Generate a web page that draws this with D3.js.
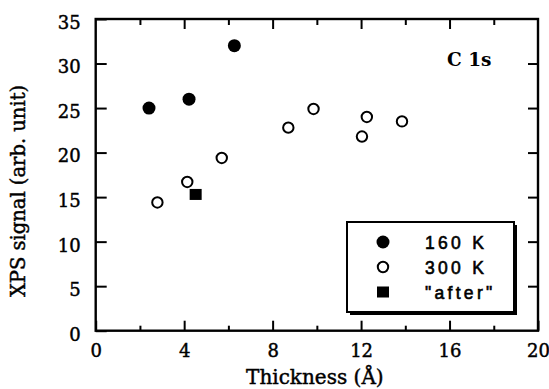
<!DOCTYPE html>
<html><head><meta charset="utf-8">
<script src="https://cdn.jsdelivr.net/npm/d3@7"></script>
<style>
body{margin:0;background:#fff;}
svg{display:block;}
</style></head>
<body>
<svg id="chart" width="549" height="389"></svg>
<script>
// Data
const thick160 = [2.41, 4.22, 6.27];
const sig160   = [25.0, 26.0, 32.0];
const thick300 = [2.79, 4.14, 5.70, 8.71, 9.85, 12.04, 12.26, 13.85];
const sig300   = [14.4, 16.7, 19.4, 22.8, 24.9, 21.8, 24.0, 23.5];
const thickAfter = [4.52];
const sigAfter   = [15.3];
const xMajorTicks = [0, 4, 8, 12, 16, 20];
const xMinorTicks = [2, 6, 10, 14, 18];
const yTicks = [0, 5, 10, 15, 20, 25, 30, 35];
const legendLabels = ["160 K", "300 K", "\"after\""];
const xTitle = "Thickness (Å)";
const yTitle = "XPS signal (arb. unit)";
const panelLabel = "C 1s";

const svg = d3.select("#chart");
const L = 95.7, R = 538, T = 19, B = 330.7;
const x = d3.scaleLinear().domain([0, 20]).range([L, R]);
const y = d3.scaleLinear().domain([0, 35]).range([B, T]);

const serif = "'DejaVu Serif', serif";
const lw = 2.4;
const ink = t => t.attr("fill", "#000").attr("stroke", "#000").attr("stroke-width", 0.45);

// frame
svg.append("rect").attr("x", L).attr("y", T).attr("width", R - L).attr("height", B - T)
  .attr("fill", "none").attr("stroke", "#000").attr("stroke-width", lw);

function styleAxis(g) {
  g.select(".domain").remove();
  g.selectAll(".tick line").attr("stroke", "#000").attr("stroke-width", 2);
  g.selectAll("text").attr("font-family", serif).attr("font-size", 18).call(ink);
}

// bottom axis
svg.append("g").attr("transform", `translate(0,${B})`)
  .call(d3.axisBottom(x).tickValues(xMajorTicks).tickSizeInner(-10).tickSizeOuter(0).tickPadding(14).tickFormat(d3.format("d")))
  .call(styleAxis);
svg.append("g").attr("transform", `translate(0,${B})`)
  .call(d3.axisBottom(x).tickValues(xMinorTicks).tickSizeInner(-5).tickSizeOuter(0).tickFormat(""))
  .call(styleAxis);
// top axis
svg.append("g").attr("transform", `translate(0,${T})`)
  .call(d3.axisTop(x).tickValues(xMajorTicks.slice(1, -1)).tickSizeInner(-10).tickSizeOuter(0).tickFormat(""))
  .call(styleAxis);
svg.append("g").attr("transform", `translate(0,${T})`)
  .call(d3.axisTop(x).tickValues(xMinorTicks).tickSizeInner(-6).tickSizeOuter(0).tickFormat(""))
  .call(styleAxis);
// left axis
svg.append("g").attr("transform", `translate(${L},0)`)
  .call(d3.axisLeft(y).tickValues(yTicks).tickSizeInner(-11).tickSizeOuter(0).tickPadding(15).tickFormat(d3.format("d")))
  .call(styleAxis)
  .call(g => g.selectAll("text").attr("dy", "0.52em"));
// right axis
svg.append("g").attr("transform", `translate(${R},0)`)
  .call(d3.axisRight(y).tickValues(yTicks.slice(1, -1)).tickSizeInner(-10).tickSizeOuter(0).tickFormat(""))
  .call(styleAxis);

// titles
svg.append("text").attr("x", (L + R) / 2 - 2).attr("y", 383.5)
  .attr("text-anchor", "middle").attr("font-family", serif).attr("font-size", 20)
  .call(ink).text(xTitle);
svg.append("text").attr("transform", `translate(24.5,${191}) rotate(-90)`)
  .attr("text-anchor", "middle").attr("font-family", serif).attr("font-size", 19.5)
  .call(ink).text(yTitle);
svg.append("text").attr("x", 447).attr("y", 65.5)
  .attr("font-family", serif).attr("font-size", 18.5).attr("font-weight", "bold")
  .attr("fill", "#000").text(panelLabel);

// data
const d160 = thick160.map((t, i) => ({t, s: sig160[i]}));
const d300 = thick300.map((t, i) => ({t, s: sig300[i]}));
const dAfter = thickAfter.map((t, i) => ({t, s: sigAfter[i]}));

svg.append("g").selectAll("circle").data(d300).join("circle")
  .attr("cx", d => x(d.t)).attr("cy", d => y(d.s)).attr("r", 5.2)
  .attr("fill", "#fff").attr("stroke", "#000").attr("stroke-width", 2);
svg.append("g").selectAll("circle").data(d160).join("circle")
  .attr("cx", d => x(d.t)).attr("cy", d => y(d.s)).attr("r", 6.5)
  .attr("fill", "#000");
svg.append("g").selectAll("rect").data(dAfter).join("rect")
  .attr("x", d => x(d.t) - 6).attr("y", d => y(d.s) - 5.5).attr("width", 12).attr("height", 11)
  .attr("fill", "#000");

// legend
const lg = svg.append("g");
const bx = 347, by = 222, bw = 167, bh = 90;
lg.append("rect").attr("x", bx + 3).attr("y", by + 3).attr("width", bw).attr("height", bh).attr("fill", "#000");
lg.append("rect").attr("x", bx).attr("y", by).attr("width", bw).attr("height", bh)
  .attr("fill", "#fff").attr("stroke", "#000").attr("stroke-width", 2);
const rows = [242, 267, 292];
lg.append("circle").attr("cx", 383).attr("cy", rows[0]).attr("r", 6.5).attr("fill", "#000");
lg.append("circle").attr("cx", 383).attr("cy", rows[1]).attr("r", 5.2).attr("fill", "#fff").attr("stroke", "#000").attr("stroke-width", 2);
lg.append("rect").attr("x", 377).attr("y", rows[2] - 5.5).attr("width", 12).attr("height", 11).attr("fill", "#000");
lg.selectAll("text.lab").data(legendLabels).join("text").attr("class", "lab")
  .attr("x", 425).attr("y", (d, i) => rows[i] + 6.5)
  .attr("font-family", "'Liberation Sans', Arial, sans-serif").attr("font-size", 17.5)
  .attr("letter-spacing", 3.3)
  .call(ink).attr("stroke-width", 0.6)
  .text(d => d);
</script>
</body></html>
